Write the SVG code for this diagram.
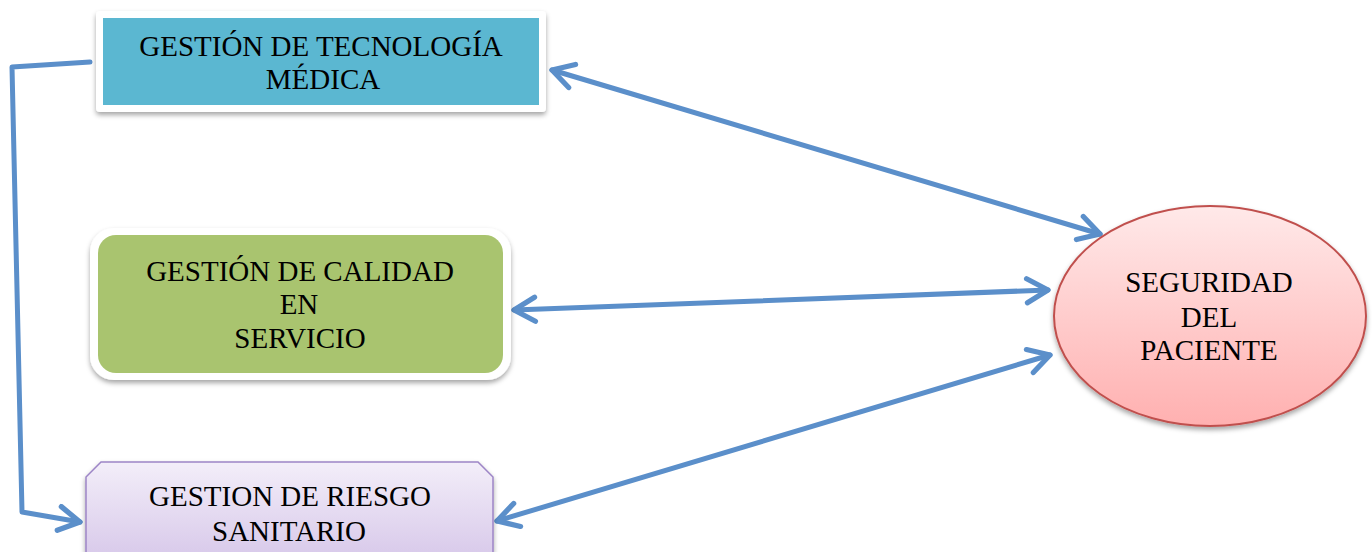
<svg xmlns="http://www.w3.org/2000/svg" width="1372" height="552" viewBox="0 0 1372 552">
<style>
.t{font-family:"Liberation Serif","Times New Roman",serif;font-size:29px;fill:#000;text-anchor:middle}
.c{fill:none;stroke:#5b8fca;stroke-width:5;stroke-linecap:round;stroke-linejoin:round}
</style>
<defs>
<filter id="sh" x="-10%" y="-20%" width="120%" height="150%">
<feDropShadow dx="0" dy="3" stdDeviation="2.5" flood-color="#000" flood-opacity="0.35"/>
</filter>
<linearGradient id="gp" x1="0" y1="0" x2="0" y2="1">
<stop offset="0" stop-color="#f3eef9"/>
<stop offset="1" stop-color="#d8c9ea"/>
</linearGradient>
<linearGradient id="gr" x1="0" y1="0" x2="0" y2="1">
<stop offset="0" stop-color="#ffe9e9"/>
<stop offset="1" stop-color="#ffb0b0"/>
</linearGradient>
<marker id="ah" viewBox="0 0 20 20" refX="17" refY="10" markerWidth="6" markerHeight="6" markerUnits="strokeWidth" orient="auto-start-reverse">
<path d="M3,2 L17,10 L3,18" fill="none" stroke="#5b8fca" stroke-width="3.5" stroke-linecap="round" stroke-linejoin="round"/>
</marker>
</defs>
<g id="connectors">
<path class="c" d="M552,70 L1100,234" marker-start="url(#ah)" marker-end="url(#ah)"/>
<path class="c" d="M514,310 L1048,290" marker-start="url(#ah)" marker-end="url(#ah)"/>
<path class="c" d="M497,521 L1050,355" marker-start="url(#ah)" marker-end="url(#ah)"/>
<path class="c" d="M90,62 L12,67 L22,512 L80,522" marker-end="url(#ah)"/>
</g>
<g id="tecnologia">
<rect x="96" y="11" width="450" height="101" rx="4" fill="#fff" filter="url(#sh)"/>
<rect x="103" y="18" width="436" height="87" fill="#5bb7d1"/>
<text class="t" x="321" y="56">GESTIÓN DE TECNOLOGÍA</text>
<text class="t" x="323" y="89">MÉDICA</text>
</g>
<g id="calidad">
<rect x="90" y="228" width="421" height="152" rx="24" fill="#fff" filter="url(#sh)"/>
<rect x="98" y="235" width="405" height="138" rx="18" fill="#a9c46f"/>
<text class="t" x="300" y="281">GESTIÓN DE CALIDAD</text>
<text class="t" x="299" y="314">EN</text>
<text class="t" x="300" y="348">SERVICIO</text>
</g>
<g id="riesgo">
<path d="M86,558 L86,477 L101,462 L478,462 L493,477 L493,558 Z" fill="url(#gp)" stroke="#9d85c6" stroke-width="1.5" filter="url(#sh)"/>
<text class="t" x="290" y="506">GESTION DE RIESGO</text>
<text class="t" x="289" y="541">SANITARIO</text>
</g>
<g id="seguridad">
<ellipse cx="1210" cy="316" rx="156" ry="110" fill="url(#gr)" stroke="#c0504d" stroke-width="2" filter="url(#sh)"/>
<text class="t" x="1209" y="292">SEGURIDAD</text>
<text class="t" x="1209" y="327">DEL</text>
<text class="t" x="1209" y="360">PACIENTE</text>
</g>
</svg>
